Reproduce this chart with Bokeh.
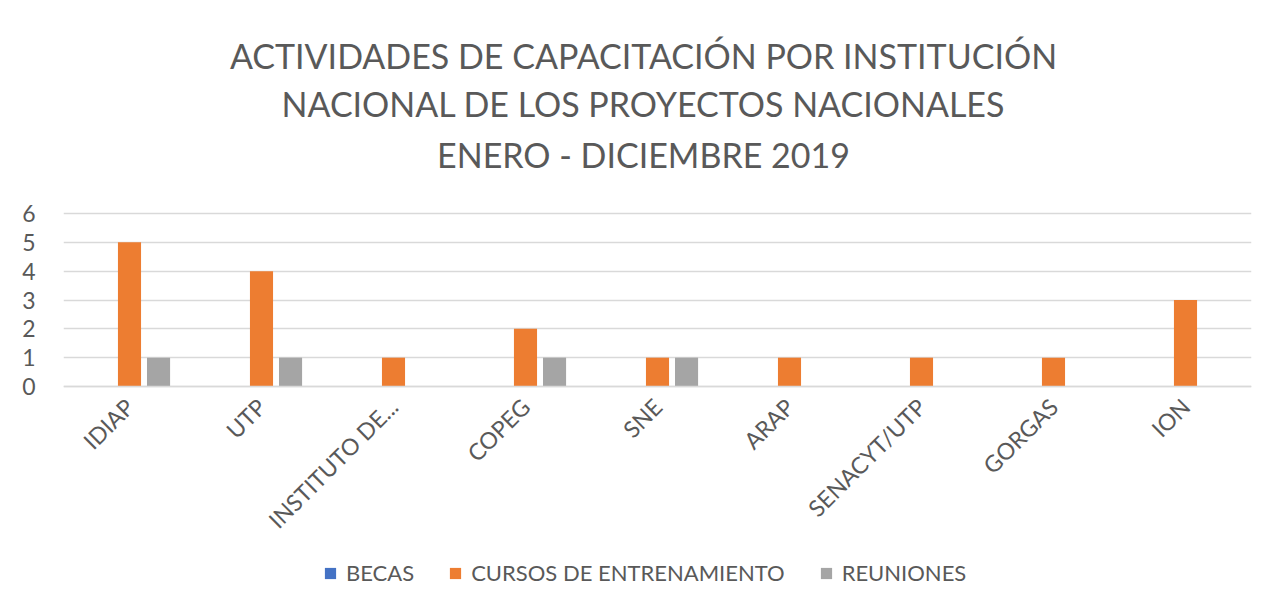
import math
from bokeh.plotting import figure
from bokeh.models import (FactorRange, Range1d, Label, Legend, LegendItem,
                          ColumnDataSource, FixedTicker)
from bokeh.transform import dodge
from bokeh.embed import file_html
from bokeh.resources import INLINE

# ---- data ----
categories = ["IDIAP", "UTP", "INSTITUTO DE...", "COPEG", "SNE", "ARAP",
              "SENACYT/UTP", "GORGAS", "ION"]
becas = [0, 0, 0, 0, 0, 0, 0, 0, 0]
cursos = [5, 4, 1, 2, 1, 1, 1, 1, 3]
reuniones = [1, 1, 0, 1, 1, 0, 0, 0, 0]
series_names = ["BECAS", "CURSOS DE ENTRENAMIENTO", "REUNIONES"]
series_keys = ["becas", "cursos", "reuniones"]
colors = ["#4472C4", "#ED7D31", "#A5A5A5"]
y_ticks = [0, 1, 2, 3, 4, 5, 6]
title_lines = ["ACTIVIDADES DE CAPACITACIÓN POR INSTITUCIÓN",
               "NACIONAL DE LOS PROYECTOS NACIONALES",
               "ENERO - DICIEMBRE 2019"]

FONT = "Lato"
TXT = "#595959"

# ---- layout (pixels) ----
FRAME_W, FRAME_H = 1188, 600
LEFT = 63
TOP_PX, ZERO_PX = 213, 386          # where the value 6 and 0 sit (from top)
px_per_unit = (ZERO_PX - TOP_PX) / max(y_ticks)
y_start = -(FRAME_H - ZERO_PX) / px_per_unit
y_end = max(y_ticks) + TOP_PX / px_per_unit

src = ColumnDataSource(dict(cat=categories, becas=becas, cursos=cursos,
                            reuniones=reuniones))

p = figure(x_range=FactorRange(*categories), y_range=Range1d(y_start, y_end),
           frame_width=FRAME_W, frame_height=FRAME_H,
           output_backend="svg", toolbar_location=None,
           min_border_left=LEFT, min_border_right=9, min_border_top=0,
           min_border_bottom=0)
p.outline_line_color = None
p.background_fill_color = "white"
p.border_fill_color = "white"
p.title.visible = False

offsets = [-0.22, 0.0, 0.22]
items = []
for key, name, col, off in zip(series_keys, series_names, colors, offsets):
    r = p.vbar(x=dodge("cat", off, range=p.x_range), top=key, width=0.175,
               source=src, fill_color=col, line_color=None)
    items.append(LegendItem(label=name, renderers=[r]))

# titles (screen units relative to the frame's bottom-left)
for line, yc in zip(title_lines, [55, 103, 154]):
    p.add_layout(Label(x=643 - LEFT, y=FRAME_H - yc, x_units="screen",
                       y_units="screen", text=line, text_align="center",
                       text_baseline="middle", text_font=FONT,
                       text_font_size="34px", text_color=TXT))

# axes
p.yaxis.ticker = FixedTicker(ticks=y_ticks)
p.yaxis.axis_line_color = None
p.yaxis.major_tick_line_color = None
p.yaxis.minor_tick_line_color = None
p.yaxis.major_label_text_font = FONT
p.yaxis.major_label_text_font_size = "23px"
p.yaxis.major_label_text_color = TXT
p.yaxis.major_label_standoff = 22

p.xaxis.fixed_location = 0
p.xaxis.axis_line_color = "#D9D9D9"
p.xaxis.axis_line_width = 1.5
p.xaxis.major_tick_line_color = None
p.xaxis.minor_tick_line_color = None
p.xaxis.major_label_orientation = math.pi / 4
p.xaxis.major_label_text_font = FONT
p.xaxis.major_label_text_font_size = "23px"
p.xaxis.major_label_text_color = TXT
p.xaxis.major_label_standoff = 10

p.xgrid.grid_line_color = None
p.ygrid.ticker = FixedTicker(ticks=y_ticks)
p.ygrid.grid_line_color = "#D9D9D9"
p.ygrid.grid_line_width = 1.5

legend = Legend(items=items, orientation="horizontal",
                location=(260, 14),
                border_line_color=None, background_fill_alpha=0,
                label_text_font=FONT, label_text_font_size="22px",
                label_text_color=TXT, glyph_width=14, glyph_height=14,
                label_standoff=9, spacing=34, margin=0, padding=4)
p.add_layout(legend, "center")

open("out.html", "w").write(file_html(p, INLINE))
